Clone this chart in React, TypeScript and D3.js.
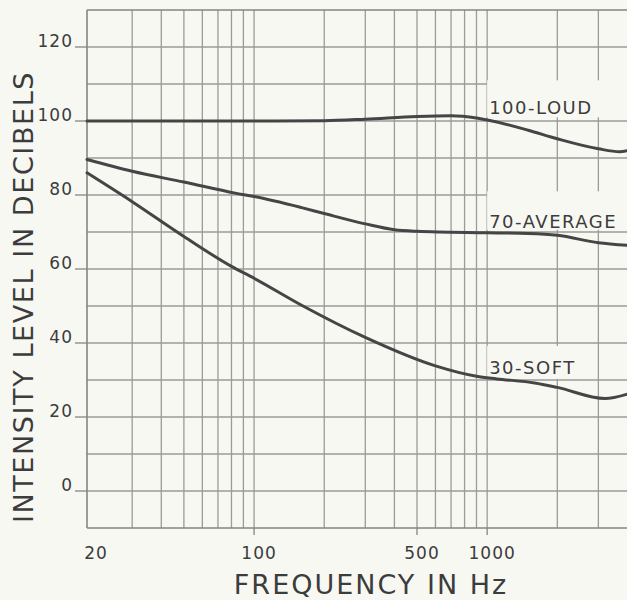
import React from "react";
import * as d3 from "d3";

// ---- data ----
const FREQ_DOMAIN: [number, number] = [19.2, 4000];
const DB_DOMAIN: [number, number] = [-10, 130];

const X_GRID = [30, 40, 50, 60, 70, 80, 90, 100, 200, 300, 400, 500, 600, 700, 800, 900, 1000, 2000, 3000];
const Y_GRID = [0, 10, 20, 30, 40, 50, 60, 70, 80, 90, 100, 110, 120];
const Y_TICKS = [0, 20, 40, 60, 80, 100, 120];
const X_TICK_LABELS = [20, 100, 500, 1000];
const X_TICK_MARKS = [100, 500, 1000];

const LOUD_FREQ = [19.2, 100, 200, 300, 500, 700, 900, 1050, 1500, 2000, 3000, 3700, 4000];
const LOUD_DB = [100, 100, 100.1, 100.5, 101.2, 101.4, 100.8, 100, 97.5, 95.2, 92.5, 91.7, 92];

const AVG_FREQ = [19.2, 30, 50, 83, 100, 160, 200, 300, 400, 500, 1000, 1500, 2000, 3000, 4000];
const AVG_DB = [89.6, 86.4, 83.5, 80.5, 79.6, 76.6, 75, 72.2, 70.6, 70.2, 69.8, 69.6, 69.1, 67.1, 66.4];

const SOFT_FREQ = [19.2, 30, 50, 80, 100, 160, 300, 600, 900, 1100, 1600, 2000, 3200, 4000];
const SOFT_DB = [86, 78.2, 68.8, 60.7, 57.5, 50.2, 41.5, 33.8, 31, 30.3, 29.2, 28, 25, 26.2];

const CURVE_LABELS = ["100-LOUD", "70-AVERAGE", "30-SOFT"];

const W = 627;
const H = 600;

export default function App() {
  const left = 87;
  const top = 10;
  const bottom = 528;
  const right = 627.5;

  const x = d3.scaleLog().domain(FREQ_DOMAIN).range([left, right]);
  const y = d3.scaleLinear().domain(DB_DOMAIN).range([bottom, top]);

  const line = d3
    .line<[number, number]>()
    .x((d) => x(d[0]))
    .y((d) => y(d[1]))
    .curve(d3.curveMonotoneX);

  const series = [
    { f: LOUD_FREQ, v: LOUD_DB },
    { f: AVG_FREQ, v: AVG_DB },
    { f: SOFT_FREQ, v: SOFT_DB },
  ];

  const gridColor = "#9b9b97";
  const axisColor = "#858581";
  const textColor = "#3c3c3c";
  const bg = "#f8f8f3";
  const font = "'DejaVu Sans', sans-serif";

  const labelSpecs = [
    { text: CURVE_LABELS[0], f: 1020, db: 102, box: [111, 101] },
    { text: CURVE_LABELS[1], f: 1020, db: 71.2, box: [81, 70.6] },
    { text: CURVE_LABELS[2], f: 1020, db: 31.5, box: [39.2, 30.3] },
  ];

  return (
    <svg
      width={W}
      height={H}
      style={{ position: "absolute", left: 0, top: 0, background: bg }}
    >
      <rect x={0} y={0} width={W} height={H} fill={bg} />
      {Y_GRID.map((v) => (
        <line key={"h" + v} x1={left} x2={W} y1={y(v)} y2={y(v)} stroke={gridColor} strokeWidth={1.3} />
      ))}
      {X_GRID.map((v) => (
        <line key={"v" + v} x1={x(v)} x2={x(v)} y1={top} y2={bottom} stroke={gridColor} strokeWidth={1.3} />
      ))}
      <line x1={left} x2={W} y1={top} y2={top} stroke={axisColor} strokeWidth={1.5} />
      <line x1={left} x2={W} y1={bottom} y2={bottom} stroke={axisColor} strokeWidth={1.6} />
      <line x1={left} x2={left} y1={top} y2={bottom} stroke={axisColor} strokeWidth={1.6} />

      {Y_TICKS.map((v) => (
        <g key={"yt" + v}>
          <line x1={left - 12} x2={left} y1={y(v)} y2={y(v)} stroke={axisColor} strokeWidth={1.3} />
          <text
            x={73}
            y={y(v)}
            textAnchor="end"
            fontFamily={font}
            fontSize={17}
            letterSpacing={1}
            fill={textColor}
          >
            {v}
          </text>
        </g>
      ))}

      {X_TICK_MARKS.map((v) => (
        <line key={"xt" + v} x1={x(v)} x2={x(v)} y1={bottom} y2={bottom + 7} stroke={axisColor} strokeWidth={1.3} />
      ))}
      {X_TICK_LABELS.map((v) => (
        <text
          key={"xl" + v}
          x={x(v) + 5}
          y={559}
          textAnchor="middle"
          fontFamily={font}
          fontSize={17}
          letterSpacing={1}
          fill={textColor}
        >
          {v}
        </text>
      ))}

      {labelSpecs.map((s, i) => (
        <rect
          key={"bg" + i}
          x={x(s.f) - 2}
          y={y(s.box[0])}
          width={i === 2 ? 102 : W}
          height={y(s.box[1]) - y(s.box[0])}
          fill={bg}
        />
      ))}

      {series.map((s, i) => (
        <path
          key={"c" + i}
          d={line(s.f.map((f, j) => [f, s.v[j]] as [number, number])) || ""}
          fill="none"
          stroke="#454545"
          strokeWidth={3}
          strokeLinecap="round"
        />
      ))}

      {labelSpecs.map((s, i) => (
        <text
          key={"lbl" + i}
          x={x(s.f)}
          y={y(s.db)}
          fontFamily={font}
          fontSize={18}
          letterSpacing={1.5}
          fill={textColor}
        >
          {s.text}
        </text>
      ))}

      <text
        x={371}
        y={594}
        textAnchor="middle"
        fontFamily={font}
        fontSize={27}
        letterSpacing={2}
        fill={textColor}
      >
        FREQUENCY IN Hz
      </text>
      <text
        transform="translate(33,297) rotate(-90)"
        textAnchor="middle"
        fontFamily={font}
        fontSize={27}
        letterSpacing={1.6}
        fill={textColor}
      >
        INTENSITY LEVEL IN DECIBELS
      </text>
    </svg>
  );
}
